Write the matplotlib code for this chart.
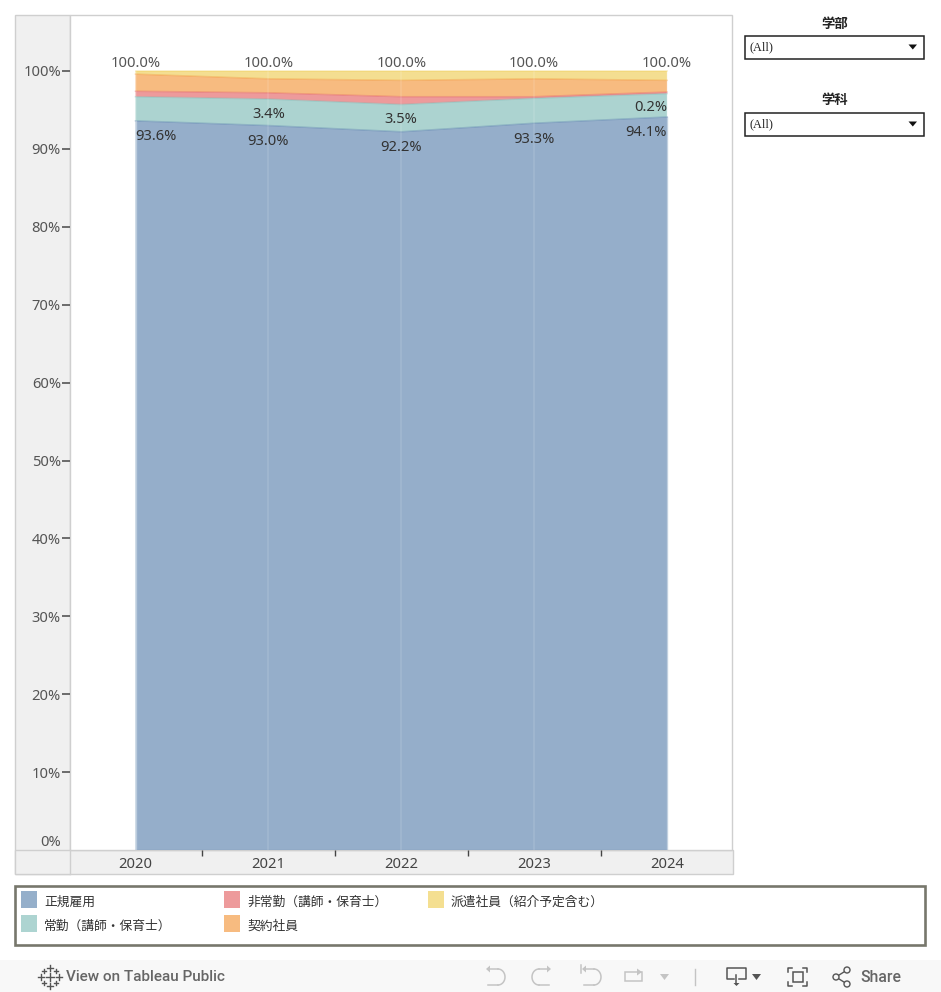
import numpy as np
import matplotlib
matplotlib.use("Agg")
import matplotlib.pyplot as plt
from matplotlib.patches import Rectangle, Polygon, Circle

plt.rcParams['font.family'] = ['Noto Sans', 'Noto Sans CJK JP']

years = [2020, 2021, 2022, 2023, 2024]
regular = [93.6, 93.0, 92.2, 93.3, 94.1]
fulltime = [3.1, 3.4, 3.5, 3.2, 3.0]
parttime = [0.7, 0.8, 1.0, 0.2, 0.2]
contract = [2.2, 1.8, 2.1, 2.3, 1.5]
dispatch = [0.4, 1.0, 1.2, 1.0, 1.2]
totals = ["100.0%"] * 5
fulltime_labels = [None, "3.4%", "3.5%", None, "0.2%"]
y_ticks = [0, 10, 20, 30, 40, 50, 60, 70, 80, 90, 100]
names = ["正規雇用", "常勤(講師・保育士)", "非常勤(講師・保育士)", "契約社員", "派遣社員(紹介予定含む)"]
names = [n.replace("(", "（").replace(")", "）") for n in names]
colors = ["#4e79a7", "#76b7b2", "#e15759", "#f28e2b", "#edc948"]
swatches = ["#95afca", "#add4d1", "#ed9a9b", "#f7bb80", "#f4df91"]

W, H = 941, 992
FS = 10.6
fig = plt.figure(figsize=(W / 100, H / 100), dpi=100, facecolor="white")

# pixel space layer for the dashboard chrome
bg = fig.add_axes([0, 0, 1, 1], zorder=0)
bg.set_xlim(0, W)
bg.set_ylim(H, 0)
bg.axis("off")

GREY = "#cfcfcf"
bg.add_patch(Rectangle((15, 15), 55, 859, fc="#f0f0f0", ec=GREY, lw=1))
bg.add_patch(Rectangle((15, 850), 718, 24, fc="#f0f0f0", ec=GREY, lw=1))
bg.add_patch(Rectangle((70, 15), 662, 835, fc="white", ec=GREY, lw=1))
bg.plot([70, 70], [850, 874], color=GREY, lw=1)

# chart
ax = fig.add_axes([70 / W, 1 - 850 / H, 663 / W, 835 / H], zorder=1)
ax.patch.set_alpha(0)
step = 132.9
ax.set_xlim(2020 - 65.5 / step, 2024 + 65.9 / step)
ax.set_ylim(0, 835 / 7.79)
for s in ax.spines.values():
    s.set_visible(False)

stack = np.array([regular, fulltime, parttime, contract, dispatch])
ax.stackplot(years, stack, colors=colors, alpha=0.6, linewidth=0)
tops = np.cumsum(stack, axis=0)
for top, c in zip(tops, colors):
    ax.plot(years, top, color=c, lw=1.1, alpha=0.35, clip_on=False)
ax.vlines(years, 0, 100, color="white", lw=1.5, alpha=0.1)
ax.plot([2020, 2020], [0, 93.6], color="white", lw=1, alpha=0.3)
ax.plot([2024, 2024], [0, 94.1], color="#4e79a7", lw=1, alpha=0.3)

ax.set_yticks(y_ticks)
ax.set_yticklabels([f"{t}%" for t in y_ticks], fontsize=FS, color="#555555")
ax.tick_params(axis="y", length=6, width=1.2, color="#555555", pad=0.5)
ax.yaxis.get_major_ticks()[0].tick1line.set_visible(False)
ax.get_yticklabels()[0].set_va("bottom")
ax.set_xticks(years)
ax.set_xticklabels(years, fontsize=FS, color="#444444")
ax.set_xticks([y + 0.5 for y in years[:-1]], minor=True)
ax.tick_params(axis="x", which="major", length=0, pad=5)
ax.tick_params(axis="x", which="minor", length=4, width=1, color="#444444")

# value labels
for i, y in enumerate(years):
    ha = {0: "left", 4: "right"}.get(i, "center")
    ax.annotate(f"{regular[i]:.1f}%", (y, regular[i]), xytext=(0, -11.4), textcoords="offset points",
                ha=ha, va="center", fontsize=FS, color="#333333")
    ax.annotate(totals[i], (y, 100), xytext=(0, 5.7), textcoords="offset points",
                ha="center", va="center", fontsize=FS, color="#555555")
    if fulltime_labels[i]:
        ax.annotate(fulltime_labels[i], (y, regular[i] + fulltime[i] / 2), xytext=(0, -1.3),
                    textcoords="offset points", ha=ha, va="center", fontsize=FS, color="#333333")

# filters
for title, ty, top in [("学部", 24, 35), ("学科", 100, 112)]:
    bg.text(835, ty, title, ha="center", va="center", fontsize=9.6, fontweight="bold",
            family=["Noto Sans CJK JP"], color="#222222")
    bg.add_patch(Rectangle((745.5, top + 0.5), 179, 23, fc="white", ec="#222222", lw=1.1))
    bg.text(750, top + 12, "(All)", ha="left", va="center", fontsize=8.8,
            family=["Liberation Serif"], color="#222222")
    bg.add_patch(Polygon([(908.5, top + 9.5), (917, top + 9.5), (912.8, top + 14.5)], fc="#111111", ec="none"))

# legend
bg.add_patch(Rectangle((15.5, 885.5), 910, 59, fc="white", ec="#77776c", lw=1.9))
slots = [(21, 891), (21, 915), (224, 891), (224, 915), (428, 891)]
for (sx, sy), name, sw in zip(slots, names, swatches):
    bg.add_patch(Rectangle((sx, sy), 16.5, 16.5, fc=sw, ec="none"))
    bg.text(sx + 23, sy + 11, name, ha="left", va="center", fontsize=9.2,
            family=["Noto Sans CJK JP"], color="#333333")

# toolbar
bg.add_patch(Rectangle((0, 960), W, 32, fc="#f8f8f8", ec="none"))
TXT = "#666666"
OFF = "#c4c4c4"
bg.text(66, 977, "View on Tableau Public", ha="left", va="center", fontsize=11,
        family=["Roboto"], fontweight="medium", color=TXT)
bg.text(860, 977, "Share", ha="left", va="center", fontsize=11.3,
        family=["Roboto"], fontweight="medium", color=TXT)
# tableau mark
for px, py, r in [(50, 977, 4), (50, 968, 3), (50, 986, 3), (41, 977, 3), (59, 977, 3),
                  (44, 971, 2), (56, 971, 2), (44, 983, 2), (56, 983, 2)]:
    bg.plot([px - r, px + r], [py, py], color="#555555", lw=1)
    bg.plot([px, px], [py - r, py + r], color="#555555", lw=1)

theta = np.linspace(-np.pi / 2, np.pi / 2, 30)


def arrow_arc(x0, sign, bar=False):
    cx = x0 + sign * 8
    bg.plot(cx + sign * 7 * np.cos(theta), 977 + 8 * np.sin(theta), color=OFF, lw=1.1)
    bg.plot([x0, cx], [969, 969], color=OFF, lw=1.1)
    bg.plot([cx - sign * 10, cx], [985, 985], color=OFF, lw=1.1)
    bg.add_patch(Polygon([(x0, 965.5), (x0, 972.5), (x0 - sign * 4, 969)], fc=OFF, ec="none"))
    if bar:
        bg.plot([x0 - sign * 5] * 2, [965, 973], color=OFF, lw=1.1)


arrow_arc(490, 1)
arrow_arc(547, -1)
arrow_arc(586, 1, bar=True)
bg.add_patch(Rectangle((625, 972), 17, 9, fc="none", ec=OFF, lw=1.1))
bg.add_patch(Polygon([(637, 968.5), (637, 975.5), (642, 972)], fc=OFF, ec="none"))
bg.add_patch(Polygon([(660, 974), (669, 974), (664.5, 980)], fc=OFF, ec="none"))
bg.plot([695.5, 695.5], [969, 985], color=OFF, lw=1)
# download
bg.plot([734, 727, 727, 746, 746, 739], [979, 979, 968, 968, 979, 979], color="#555555", lw=1.1)
bg.plot([736.5, 736.5], [975, 984], color="#555555", lw=1.1)
bg.add_patch(Polygon([(733.5, 983), (739.5, 983), (736.5, 986)], fc="#555555", ec="none"))
bg.add_patch(Polygon([(752, 974), (761, 974), (756.5, 980)], fc="#555555", ec="none"))
# fullscreen
bg.add_patch(Rectangle((793, 972), 10, 10, fc="none", ec="#555555", lw=1.1))
for cx, cy, dx, dy in [(788, 968, 1, 1), (807, 968, -1, 1), (788, 986, 1, -1), (807, 986, -1, -1)]:
    bg.plot([cx + dx * 4, cx, cx], [cy, cy, cy + dy * 4], color="#555555", lw=1.1)
# share
nodes = [(836, 977), (847, 970), (847, 984)]
bg.plot([847, 836, 847], [970, 977, 984], color="#555555", lw=1)
for n in nodes:
    bg.add_patch(Circle(n, 3, fc="#f8f8f8", ec="#555555", lw=1, zorder=3))

fig.savefig("out.png", dpi=100)
